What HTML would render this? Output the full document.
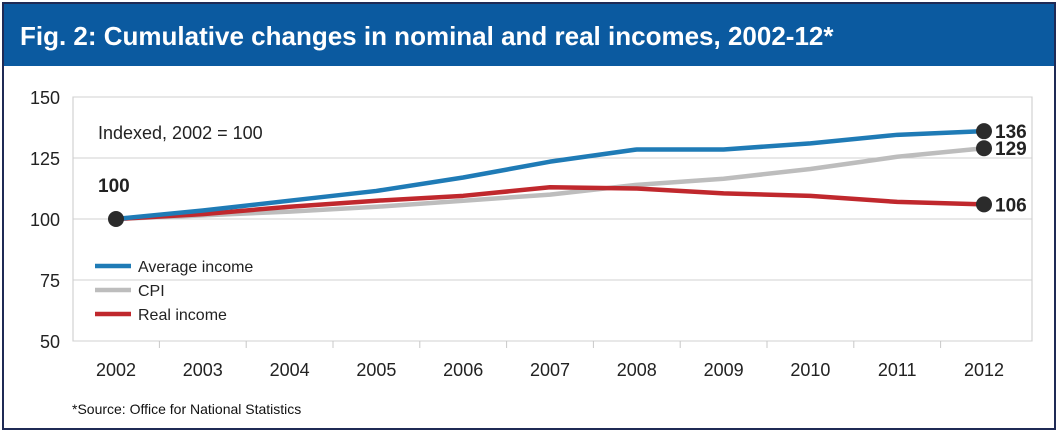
<!DOCTYPE html>
<html><head><meta charset="utf-8"><style>
body{margin:0;width:1058px;height:432px;overflow:hidden;background:#fff;font-family:"Liberation Sans",Arial,sans-serif}
#frame{position:absolute;left:2px;top:2px;width:1050px;height:424px;border:2px solid #1f2a55;background:#fff}
#hdr{position:absolute;left:0;top:0;width:1050px;height:62px;background:#0b5aa0;color:#fff;font-weight:bold;font-size:26px;line-height:64px;padding-left:16px;box-sizing:border-box}
svg{position:absolute;left:0;top:0}
</style></head><body>
<div id="frame">
<div id="hdr">Fig. 2: Cumulative changes in nominal and real incomes, 2002-12*</div>
</div>
<svg id="c" width="1058" height="432"></svg>
<script>
const years=[2002,2003,2004,2005,2006,2007,2008,2009,2010,2011,2012];
const yTicks=[50,75,100,125,150];
const avgIncome=[100,103.5,107.5,111.5,117,123.5,128.5,128.5,131,134.5,136];
const cpi=[100,101.5,103,105,107.5,110,114,116.5,120.5,125.5,129];
const realIncome=[100,102,105,107.5,109.5,113,112.5,110.5,109.5,107,106];
const endLabels=["136","129","106"];
const NS='http://www.w3.org/2000/svg';
const svg=document.getElementById('c');
const x=i=>116+i*86.8;
const y=v=>341-(v-50)*2.44;
function mk(t,a,p){const e=document.createElementNS(NS,t);for(const k in a)e.setAttribute(k,a[k]);(p||svg).appendChild(e);return e;}
const box=mk('rect',{x:73,y:97,width:959,height:244,fill:'none',stroke:'#c8c8c8'});


yTicks.forEach(v=>{
 const l=mk('line',{x1:73,x2:1032,y1:y(v),y2:y(v),stroke:'#d0d0d0'});
 
 
 const t=mk('text',{x:60,y:y(v)+7,'text-anchor':'end','font-size':18,fill:'#222'});t.textContent=v;
 
 
});
years.forEach((yr,i)=>{
 const t=mk('text',{x:x(i),y:376,'text-anchor':'middle','font-size':18,fill:'#222'});t.textContent=yr;
 
 
 if(i<years.length-1){const k=mk('line',{x1:x(i)+43.4,x2:x(i)+43.4,y1:341,y2:348,stroke:'#c8c8c8'});
 
 }
});
const series=[[cpi,'#bdbdbd','cpi-line'],[realIncome,'#c0282d','real-income-line'],[avgIncome,'#1f7bb6','average-income-line']];
series.forEach(([d,c,n])=>{
 const p=mk('polyline',{points:d.map((v,i)=>x(i)+','+y(v)).join(' '),fill:'none',stroke:c,'stroke-width':4.5,'stroke-linejoin':'round'});
 
 
});
const ends=[avgIncome,cpi,realIncome];
ends.forEach((d,j)=>{
 const n=d.length-1;
 const c=mk('circle',{cx:x(n),cy:y(d[n]),r:8,fill:'#2b2b2b'});
 
 
 const t=mk('text',{x:x(n)+11,y:y(d[n])+7,'font-size':19,'font-weight':'bold',fill:'#222'});t.textContent=endLabels[j];
 
 
});
const s=mk('circle',{cx:x(0),cy:y(avgIncome[0]),r:8,fill:'#2b2b2b'});


const st=mk('text',{x:98,y:192,'font-size':19,'font-weight':'bold',fill:'#222'});st.textContent='100';


const note=mk('text',{x:98,y:139,'font-size':18,fill:'#222'});note.textContent='Indexed, 2002 = 100';


[['Average income','#1f7bb6',266],['CPI','#bdbdbd',290],['Real income','#c0282d',314]].forEach(([lab,c,yy])=>{
 const l=mk('line',{x1:95,x2:131,y1:yy,y2:yy,stroke:c,'stroke-width':4.5});
 
 
 const t=mk('text',{x:138,y:yy+6,'font-size':16,fill:'#222'});t.textContent=lab;
 
 
});
const src=mk('text',{x:72,y:414,'font-size':14,fill:'#111'});src.textContent='*Source: Office for National Statistics';


</script>
</body></html>
